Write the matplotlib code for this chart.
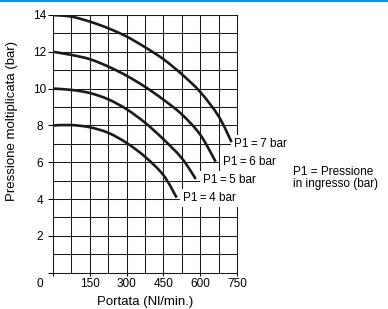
import numpy as np
import matplotlib
matplotlib.use("Agg")
import matplotlib.pyplot as plt
from matplotlib.lines import Line2D
from matplotlib.path import Path
from matplotlib.patches import PathPatch

plt.rcParams['font.family'] = ['Liberation Sans', 'DejaVu Sans']

# Curve data (flow in Nl/min, pressure in bar)
flow_p7 = [0, 75, 150, 225, 300, 375, 450, 525, 600, 675, 728]
pres_p7 = [14.0, 13.91, 13.64, 13.28, 12.83, 12.25, 11.6, 10.78, 9.82, 8.5, 7.09]

flow_p6 = [0, 75, 150, 225, 300, 375, 450, 525, 600, 663]
pres_p6 = [12.0, 11.83, 11.6, 11.2, 10.7, 10.1, 9.4, 8.6, 7.5, 6.03]

flow_p5 = [0, 75, 150, 225, 300, 375, 450, 525, 582]
pres_p5 = [10.0, 9.93, 9.76, 9.42, 8.88, 8.15, 7.25, 6.22, 5.09]

flow_p4 = [0, 75, 150, 225, 300, 375, 450, 504]
pres_p4 = [8.0, 8.02, 7.9, 7.6, 7.05, 6.3, 5.3, 4.08]

curve_labels = ["P1\u2009=\u20097 bar", "P1\u2009=\u20096 bar", "P1\u2009=\u20095 bar", "P1\u2009=\u20094 bar"]
label_x = [738, 693, 613, 531]
label_y = [7.0, 6.03, 5.04, 4.06]

x_ticks = [0, 150, 300, 450, 600, 750]
x_ticklabels = ["", "150", "300", "450", "600", "750"]
y_ticks = [0, 2, 4, 6, 8, 10, 12, 14]
y_ticklabels = ["", "2", "4", "6", "8", "10", "12", "14"]


def smooth_path(xs, ys):
    # Catmull-Rom through the read points, drawn as cubic Bezier segments
    pts = np.column_stack([xs, ys]).astype(float)
    ext = np.vstack([pts[0], pts, pts[-1]])
    verts = [pts[0]]
    codes = [Path.MOVETO]
    for i in range(1, len(ext) - 2):
        p0, p1, p2, p3 = ext[i - 1], ext[i], ext[i + 1], ext[i + 2]
        verts += [p1 + (p2 - p0) / 6, p2 - (p3 - p1) / 6, p2]
        codes += [Path.CURVE4] * 3
    return Path(verts, codes)


fig = plt.figure(figsize=(3.88, 3.09), dpi=100)
ax = fig.add_axes([0.1366, 0.1175, 0.4742, 0.834])

ax.set_xlim(0, 750)
ax.set_ylim(0, 14)

# Grid
ax.set_xticks(x_ticks)
ax.set_xticklabels(x_ticklabels)
ax.set_xticks(np.arange(0, 751, 75), minor=True)
ax.set_yticks(y_ticks)
ax.set_yticklabels(y_ticklabels)
ax.set_yticks(np.arange(0, 15, 1), minor=True)
ax.grid(True, which='both', color='#1a1a1a', linewidth=0.75, zorder=0)
ax.set_axisbelow(True)

ax.tick_params(axis='x', which='major', length=2.2, width=0.75, pad=1.8,
               labelsize=8.5, direction='out')
ax.tick_params(axis='y', which='major', length=3.6, width=0.75, pad=5.8,
               labelsize=8.5, direction='out')
ax.tick_params(which='minor', length=0)
for lbl in ax.get_yticklabels():
    lbl.set_ha('center')

for sp in ax.spines.values():
    sp.set_linewidth(0.75)
    sp.set_color('#1a1a1a')

# Curves
for fx, py in [(flow_p7, pres_p7), (flow_p6, pres_p6), (flow_p5, pres_p5), (flow_p4, pres_p4)]:
    ax.add_patch(PathPatch(smooth_path(fx, py), facecolor='none', edgecolor='#1a1a1a',
                           linewidth=1.9, capstyle='butt', zorder=4))

for txt, lx, ly in zip(curve_labels, label_x, label_y):
    ax.text(lx, ly, txt, fontsize=8.5, ha='left', va='center', zorder=3,
            clip_on=False,
            bbox=dict(facecolor='white', edgecolor='none', pad=2.4))

# Origin label shared by both axes
ax.text(-55, -0.62, "0", fontsize=8.5, ha='center', va='center', clip_on=False)

fig.text(293.3 / 388, 1 - 178 / 309, "P1 = Pressione\nin ingresso (bar)",
         fontsize=8.5, ha='left', va='center', linespacing=1.0)

fig.text(12 / 388, 1 - 121 / 309, "Pressione moltiplicata (bar)", fontsize=9.5,
         rotation=90, ha='center', va='center')
fig.text(145 / 388, 1 - 302.5 / 309, "Portata (Nl/min.)", fontsize=9.5,
         ha='center', va='center')

# Blue rule at the top
fig.add_artist(Line2D([0, 1], [1 - 0.8 / 309, 1 - 0.8 / 309], color='#1496d4',
                      linewidth=1.6, transform=fig.transFigure))

fig.savefig("out.png", dpi=100)
plt.close(fig)
